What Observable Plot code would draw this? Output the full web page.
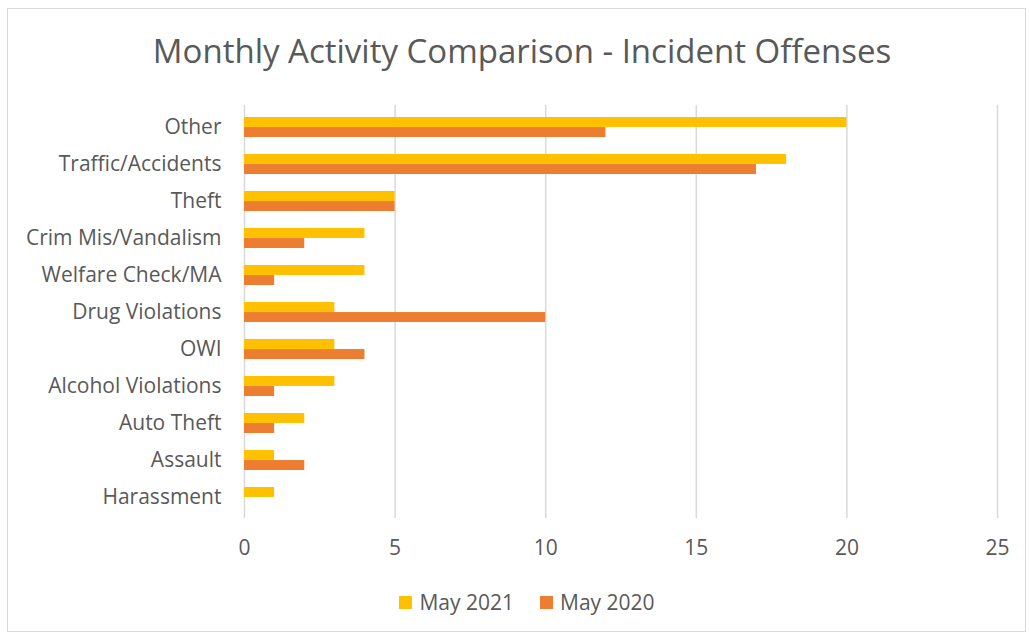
<!DOCTYPE html>
<html>
<head>
<meta charset="utf-8">
<script src="https://cdn.jsdelivr.net/npm/d3@7"></script>
<script src="https://cdn.jsdelivr.net/npm/@observablehq/plot@0.6"></script>
<style>
  html, body { margin: 0; padding: 0; background: #fff; }
  body { width: 1029px; height: 637px; position: relative; overflow: hidden; font-family: "Open Sans", sans-serif; color: #595959; }
  #frame { position: absolute; left: 7px; top: 8px; width: 1019px; height: 624px; border: 1.5px solid #d9d9d9; box-sizing: border-box; }
  #title { position: absolute; left: 0; width: 1044px; top: 29px; text-align: center; font-size: 33px; line-height: 44px; color: #595959; }
  #chart { position: absolute; left: 0; top: 90px; }
  #legend { position: absolute; top: 588px; left: 0; width: 1054px; display: flex; justify-content: center; gap: 26px; font-size: 21px; line-height: 28px; }
  .item { display: flex; align-items: center; gap: 7px; }
  .sw { width: 13px; height: 13px; display: inline-block; }
</style>
</head>
<body>
<div id="frame"></div>
<div id="title">Monthly Activity Comparison - Incident Offenses</div>
<div id="chart"></div>
<div id="legend"></div>
<script>
const categories = ["Other", "Traffic/Accidents", "Theft", "Crim Mis/Vandalism", "Welfare Check/MA", "Drug Violations", "OWI", "Alcohol Violations", "Auto Theft", "Assault", "Harassment"];
const may2021 = [20, 18, 5, 4, 4, 3, 3, 3, 2, 1, 1];
const may2020 = [12, 17, 5, 2, 1, 10, 4, 1, 1, 2, 0];
const seriesNames = ["May 2021", "May 2020"];
const seriesColors = ["#FFC000", "#ED7D31"];
const xTicks = [0, 5, 10, 15, 20, 25];

const rows2021 = categories.map((c, i) => ({category: c, value: may2021[i]}));
const rows2020 = categories.map((c, i) => ({category: c, value: may2020[i]}));

const chart = Plot.plot({
  width: 1029,
  height: 480,
  marginTop: 15,
  marginBottom: 52,
  marginLeft: 244,
  marginRight: 32,
  style: {fontFamily: "'Open Sans', sans-serif", fontSize: "21px", color: "#595959", background: "transparent"},
  x: {domain: [0, 25], ticks: xTicks, label: null, tickSize: 0, tickPadding: 22},
  y: {domain: categories, paddingInner: 0.46, paddingOuter: 0.29, label: null, tickSize: 0, tickPadding: 23},
  marks: [
    Plot.ruleX(xTicks, {stroke: "#d9d9d9", strokeWidth: 1.5}),
    Plot.barX(rows2021, {y: "category", x: "value", fill: seriesColors[0], insetBottom: 10.05}),
    Plot.barX(rows2020, {y: "category", x: "value", fill: seriesColors[1], insetTop: 10.05}),
    Plot.axisX({ticks: xTicks, tickSize: 0, tickPadding: 22, label: null, fill: "#595959"}),
    Plot.axisY({tickSize: 0, tickPadding: 23, label: null, fill: "#595959"})
  ]
});
document.getElementById("chart").appendChild(chart);

const legend = document.getElementById("legend");
seriesNames.forEach((name, i) => {
  const item = document.createElement("span");
  item.className = "item";
  const sw = document.createElement("span");
  sw.className = "sw";
  sw.style.background = seriesColors[i];
  item.appendChild(sw);
  item.appendChild(document.createTextNode(name));
  legend.appendChild(item);
});
</script>
</body>
</html>
